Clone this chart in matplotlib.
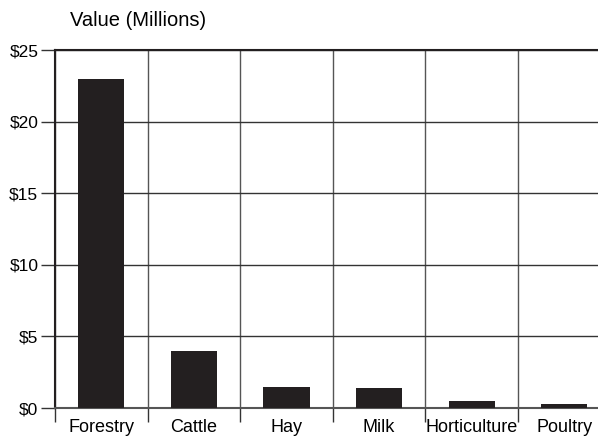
import matplotlib
matplotlib.use('Agg')
import matplotlib.pyplot as plt
import numpy as np

categories = ['Forestry', 'Cattle', 'Hay', 'Milk', 'Horticulture', 'Poultry']
values = [23.0, 4.0, 1.5, 1.4, 0.5, 0.3]
y_ticks = [0, 5, 10, 15, 20, 25]
y_labels = ['$0', '$5', '$10', '$15', '$20', '$25']

plt.rcParams['font.family'] = ['Liberation Sans', 'DejaVu Sans']

fig = plt.figure(figsize=(5.98, 4.41), dpi=100)
ax = fig.add_axes([55 / 598, 33 / 441, 543 / 598, 358 / 441])

x = np.arange(len(categories))
ax.bar(x, values, width=0.5, color='#231f20', zorder=3)

# limites: ultima categoria fica cortada na borda da figura
ax.set_xlim(-0.5, -0.5 + 543 / 92.6)
ax.set_ylim(0, 25)

# ticks nas divisas das categorias, rotulos no centro
ax.set_xticks(np.arange(len(categories)) - 0.5)
ax.set_xticklabels([])
ax.set_xticks(x, minor=True)
ax.set_xticklabels(categories, minor=True, fontsize=13)
ax.tick_params(axis='x', which='major', direction='out', length=10, width=1, color='#333333')
ax.tick_params(axis='x', which='minor', length=0, pad=8)

ax.set_yticks(y_ticks)
ax.set_yticklabels(y_labels, fontsize=12.5)
ax.tick_params(axis='y', direction='out', length=10, width=1, color='#333333', pad=2)

ax.grid(axis='y', color='#333333', linewidth=1, zorder=1)
ax.grid(axis='x', which='major', color='#555555', linewidth=1, zorder=1)

ax.spines['right'].set_visible(False)
ax.spines['top'].set_color('#231f20')
ax.spines['top'].set_linewidth(1.5)
ax.spines['left'].set_color('#231f20')
ax.spines['left'].set_linewidth(1.5)
ax.spines['bottom'].set_color('#555555')
ax.spines['bottom'].set_linewidth(1.5)

fig.text(70 / 598, 1 - 20 / 441, 'Value (Millions)', fontsize=14.5, ha='left', va='center')

fig.savefig('out.png', dpi=100)
